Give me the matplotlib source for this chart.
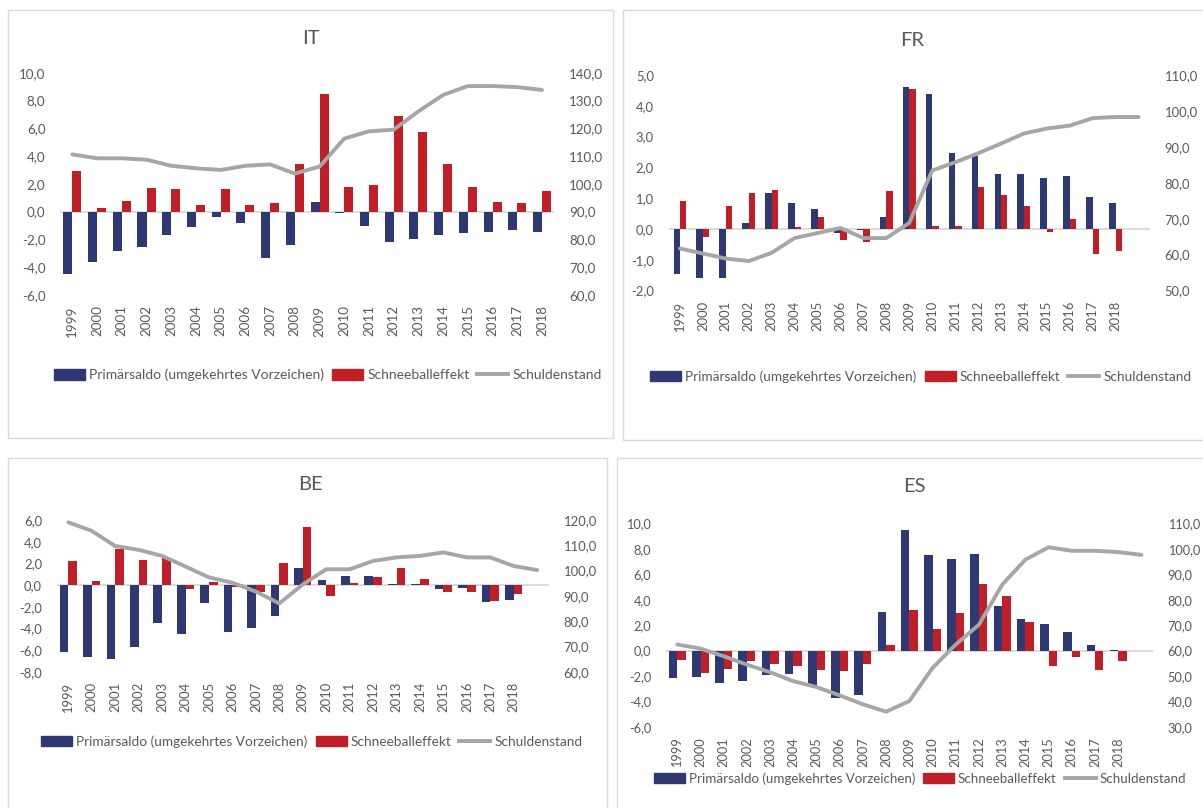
import numpy as np
import matplotlib.pyplot as plt
from matplotlib.patches import Rectangle, Patch
from matplotlib.lines import Line2D

plt.rcParams["font.family"] = ["Lato", "DejaVu Sans"]

W, H = 1203, 808

years = [str(y) for y in range(1999, 2019)]

# --- Italy ---
it_primary = [-4.5, -3.6, -2.8, -2.55, -1.7, -1.1, -0.35, -0.85, -3.35, -2.4,
              0.7, -0.1, -1.0, -2.15, -2.0, -1.65, -1.55, -1.45, -1.3, -1.45]
it_snowball = [2.95, 0.25, 0.8, 1.7, 1.6, 0.45, 1.6, 0.45, 0.6, 3.4,
               8.45, 1.8, 1.95, 6.9, 5.75, 3.4, 1.8, 0.7, 0.6, 1.5]
it_debt = [110.6, 109.2, 109.2, 108.7, 106.5, 105.6, 105.0, 106.5, 107.0, 103.7,
           106.2, 116.3, 118.9, 119.5, 126.1, 132.0, 135.2, 135.2, 134.8, 133.8]

# --- France ---
fr_primary = [-1.45, -1.6, -1.6, 0.18, 1.16, 0.84, 0.65, -0.14, -0.02, 0.4,
              4.62, 4.38, 2.46, 2.38, 1.77, 1.77, 1.65, 1.73, 1.05, 0.84]
fr_snowball = [0.92, -0.25, 0.75, 1.18, 1.27, 0.05, 0.4, -0.36, -0.41, 1.22,
               4.55, 0.1, 0.1, 1.35, 1.09, 0.75, -0.11, 0.33, -0.83, -0.71]
fr_debt = [61.7, 60.3, 58.9, 58.2, 60.5, 64.6, 66.0, 67.4, 64.6, 64.6,
           68.8, 83.4, 85.7, 88.2, 90.9, 93.7, 95.1, 95.9, 98.0, 98.3, 98.3]

# --- Belgium ---
be_primary = [-6.2, -6.6, -6.8, -5.75, -3.55, -4.55, -1.7, -4.35, -4.0, -2.85,
              1.55, 0.45, 0.85, 0.85, 0.05, 0.05, -0.4, -0.3, -1.6, -1.35]
be_snowball = [2.2, 0.37, 3.3, 2.35, 2.45, -0.4, 0.25, -0.15, -0.6, 2.0,
               5.35, -1.0, 0.15, 0.7, 1.55, 0.6, -0.68, -0.68, -1.45, -0.86]
be_debt = [119.1, 115.7, 109.7, 108.2, 105.8, 101.6, 97.3, 95.2, 91.7, 87.0,
           94.5, 100.5, 100.5, 103.8, 105.2, 105.8, 107.2, 105.2, 105.2, 101.8, 100.2]

# --- Spain ---
es_primary = [-2.14, -2.06, -2.53, -2.35, -1.93, -1.83, -2.79, -3.76, -3.45, 3.0,
              9.48, 7.52, 7.2, 7.62, 3.47, 2.48, 2.09, 1.46, 0.47, 0.08]
es_snowball = [-0.76, -1.75, -1.44, -0.84, -1.02, -1.23, -1.54, -1.62, -1.02, 0.47,
               3.19, 1.67, 2.98, 5.22, 4.31, 2.27, -1.23, -0.52, -1.54, -0.84]
es_debt = [62.4, 60.8, 57.8, 54.5, 51.5, 48.0, 45.7, 42.4, 38.9, 36.0,
           40.2, 53.2, 62.4, 70.2, 85.9, 95.7, 100.6, 99.2, 99.2, 98.7, 97.6]

labels = ["Primärsaldo (umgekehrtes Vorzeichen)", "Schneeballeffekt", "Schuldenstand"]

BLUE = "#2E3873"
RED = "#C01F28"
GREY = "#A6A6A6"
TEXT = "#595959"
FRAME = "#D9D9D9"


def px_rect(x0, y0, x1, y1):
    return [x0 / W, 1 - y1 / H, (x1 - x0) / W, (y1 - y0) / H]


def fmt(v):
    return f"{v:.1f}".replace(".", ",")


fig = plt.figure(figsize=(W / 100, H / 100), dpi=100)

panels = [
    dict(name="IT", primary=it_primary, snowball=it_snowball, debt=it_debt,
         box=(8, 10, 613, 438), axbox=(60, 72.7, 554.4, 295), title=(311, 38),
         leg=(328, 375), ylim=(-6, 10), ystep=2, y2lim=(60, 140), y2step=10,
         width=0.365, fs=9.6),
    dict(name="FR", primary=fr_primary, snowball=fr_snowball, debt=fr_debt,
         box=(622.7, 10, 1215, 440), axbox=(668.5, 75, 1150, 290.5), title=(912, 40),
         leg=(921, 376.7), ylim=(-2, 5), ystep=1, y2lim=(50, 110), y2step=10,
         width=0.28, fs=9.4),
    dict(name="BE", primary=be_primary, snowball=be_snowball, debt=be_debt,
         box=(8.3, 458.3, 606.7, 820), axbox=(56.6, 520, 548.9, 671.7), title=(310, 485),
         leg=(312, 741.7), ylim=(-8, 6), ystep=2, y2lim=(60, 120), y2step=10,
         width=0.37, fs=9.4),
    dict(name="ES", primary=es_primary, snowball=es_snowball, debt=es_debt,
         box=(616.7, 458.3, 1215, 820), axbox=(665.7, 523.3, 1153, 727), title=(914, 487),
         leg=(920, 778.3), ylim=(-6, 10), ystep=2, y2lim=(30, 110), y2step=10,
         width=0.365, fs=9.2),
]

for p in panels:
    # panel frame
    x0, y0, x1, y1 = p["box"]
    fig.add_artist(Rectangle((x0 / W, 1 - y1 / H), (x1 - x0) / W, (y1 - y0) / H,
                             transform=fig.transFigure, fill=False,
                             edgecolor=FRAME, linewidth=1.0))

    ax = fig.add_axes(px_rect(*p["axbox"]))
    ax2 = ax.twinx()

    n_line = len(p["debt"])
    cats = years + [""] * (n_line - len(years))
    x = np.arange(len(years))
    w = p["width"]

    ax.bar(x - w / 2, p["primary"], width=w, color=BLUE, zorder=3)
    ax.bar(x + w / 2, p["snowball"], width=w, color=RED, zorder=3)
    ax.axhline(0, color=FRAME, linewidth=1.3, zorder=2)

    ax.set_xlim(-0.5, n_line - 0.5)
    ax.set_ylim(*p["ylim"])
    ax.set_yticks(np.arange(p["ylim"][0], p["ylim"][1] + 0.01, p["ystep"]))
    ax.set_yticklabels([fmt(v) for v in ax.get_yticks()])
    ax.set_xticks(np.arange(n_line))
    ax.set_xticklabels(cats, rotation=90)

    ax2.plot(np.arange(n_line), p["debt"], color=GREY, linewidth=2.8,
             solid_joinstyle="round", solid_capstyle="round", zorder=4)
    ax2.set_ylim(*p["y2lim"])
    ax2.set_yticks(np.arange(p["y2lim"][0], p["y2lim"][1] + 0.01, p["y2step"]))
    ax2.set_yticklabels([fmt(v) for v in ax2.get_yticks()])

    for a in (ax, ax2):
        for s in a.spines.values():
            s.set_visible(False)
        a.tick_params(length=0, colors=TEXT, labelsize=p["fs"])
        a.patch.set_visible(False)
    ax.tick_params(axis="y", pad=10.5)
    ax.tick_params(axis="x", pad=7.5)
    ax2.tick_params(axis="y", pad=10.5)

    fig.text(p["title"][0] / W, 1 - p["title"][1] / H, p["name"], ha="center",
             va="center", fontsize=14.5, color=TEXT)

    handles = [Patch(color=BLUE), Patch(color=RED),
               Line2D([], [], color=GREY, linewidth=2.8)]
    fs_px = (p["fs"] + 0.4) * 100 / 72
    fig.legend(handles, labels, loc="center",
               bbox_to_anchor=(p["leg"][0] / W, 1 - p["leg"][1] / H),
               ncol=3, frameon=False, fontsize=p["fs"] + 0.4, labelcolor=TEXT,
               handlelength=31 / fs_px, handleheight=0.75,
               handletextpad=4 / fs_px, columnspacing=8 / fs_px, borderpad=0)

fig.savefig("out.png", dpi=100, facecolor="white")
